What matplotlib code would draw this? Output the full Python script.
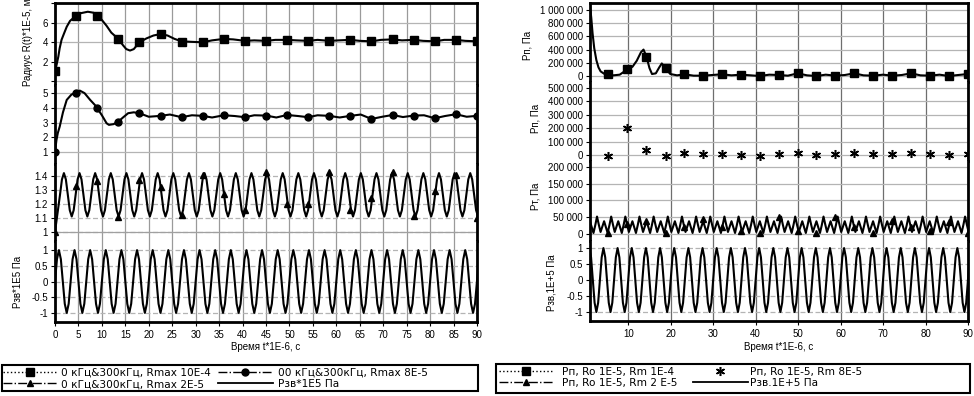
import numpy as np
import matplotlib
matplotlib.use("Agg")
import matplotlib.pyplot as plt
from matplotlib.lines import Line2D
from matplotlib.patches import Rectangle

plt.rcParams['font.family'] = ['Liberation Sans', 'DejaVu Sans']
plt.rcParams['font.size'] = 7

# ---------------- data (time in 1E-6 s) ----------------
# one cycle of the 300 kHz drive, 8 samples per cycle
period = 3.333
sine_cycle = [0.0, 0.71, 1.0, 0.71, 0.0, -0.71, -1.0, -0.71]

# left chart: radius curves
r1_t = [0, 0.3, 0.7, 1.0, 1.4, 2.0, 2.5, 3.2, 4.5, 5.5, 7.0, 8.2, 9.0, 10.0, 11.0, 12.0,
        13.5, 14.5, 15.2, 16.0, 16.8, 18.0, 19.5, 21.0, 22.5, 24.0, 25.5, 27.0, 29.0,
        31.5, 33.5, 36.0, 38.0, 40.5, 42.5, 45.0, 47.0, 49.5, 51.5, 54.0, 56.0, 58.5,
        60.5, 63.0, 65.0, 67.5, 69.5, 72.0, 74.0, 76.5, 78.5, 81.0, 83.0, 85.5, 87.5, 90.0]
r1_v = [1.0, 1.6, 2.5, 3.4, 4.26, 5.0, 5.6, 6.2, 6.75, 7.0, 7.15, 7.05, 6.8, 6.3, 5.7, 5.0,
        4.35, 3.7, 3.3, 3.15, 3.3, 4.0, 4.4, 4.7, 4.85, 4.7, 4.35, 4.1, 4.05,
        4.0, 4.2, 4.35, 4.3, 4.15, 4.2, 4.15, 4.25, 4.25, 4.2, 4.15, 4.25, 4.15,
        4.2, 4.25, 4.15, 4.1, 4.25, 4.3, 4.2, 4.25, 4.15, 4.1, 4.25, 4.25, 4.15, 4.1]

r2_t = [0, 0.3, 0.6, 1.0, 1.7, 2.5, 3.5, 4.5, 5.3, 6.3, 7.5, 8.5, 9.0, 10.0, 11.0, 11.5,
        12.5, 13.5, 14.5, 15.6, 16.8, 18.0, 20.0, 22.5, 24.5, 27.0, 29.2, 31.5, 33.5,
        36.0, 38.3, 40.5, 42.5, 45.0, 47.2, 49.5, 51.8, 54.0, 56.0, 58.5, 60.7, 63.0,
        65.2, 67.5, 69.8, 72.0, 74.2, 76.5, 78.7, 81.0, 83.2, 85.5, 87.8, 90.0]
r2_v = [1.0, 1.8, 2.3, 2.73, 3.7, 4.54, 4.9, 5.04, 5.17, 5.0, 4.54, 4.2, 3.98, 3.5, 2.96, 2.85,
        2.9, 3.07, 3.35, 3.64, 3.7, 3.64, 3.4, 3.46, 3.55, 3.37, 3.5, 3.46, 3.35,
        3.5, 3.45, 3.37, 3.5, 3.48, 3.35, 3.52, 3.45, 3.37, 3.5, 3.46, 3.35, 3.46,
        3.55, 3.25, 3.4, 3.52, 3.38, 3.48, 3.5, 3.3, 3.45, 3.57, 3.4, 3.46]

# oscillating radius (Rmax 2E-5): starts at 1, then one cycle repeated
r3_start = 1.0
r3_phase = 1.067
r3_cycle = [1.265, 1.375, 1.42, 1.375, 1.265, 1.155, 1.11, 1.155]

marker_t_left = [0, 4.5, 9, 13.5, 18, 22.5, 27, 31.5, 36, 40.5, 45, 49.5, 54, 58.5,
                 63, 67.5, 72, 76.5, 81, 85.5, 90]
sq_left = [1.0, 6.75, 6.75, 4.33, 3.98, 4.84, 4.08, 4.02, 4.35, 4.15, 4.15, 4.25, 4.15, 4.15,
           4.25, 4.1, 4.3, 4.25, 4.1, 4.25, 4.1]
circ_left = [1.0, 5.04, 3.98, 3.07, 3.64, 3.46, 3.37, 3.46, 3.5, 3.37, 3.48, 3.52, 3.37, 3.46,
             3.46, 3.25, 3.52, 3.48, 3.3, 3.57, 3.46]
tri_left = [1.0, 1.33, 1.366, 1.105, 1.37, 1.32, 1.12, 1.407, 1.27, 1.16, 1.43, 1.2, 1.2, 1.43,
            1.157, 1.24, 1.43, 1.114, 1.29, 1.41, 1.1]

# right chart: pressure curves (Pa)
pa_t = [1.0, 1.3, 1.6, 2.0, 2.5, 3.0, 3.5, 4.3, 5.3, 6.5, 8.0, 9.8, 11.0, 12.0, 13.0, 13.6,
        14.3, 15.0, 15.6, 16.5, 17.3, 17.9, 18.8, 19.9, 21.5, 23.2, 25.4, 27.6, 29.8, 32.1,
        34.3, 36.6, 38.8, 41.0, 43.2, 45.4, 47.6, 49.9, 52.1, 54.3, 56.5, 58.8, 61.0, 63.2,
        65.4, 67.7, 70.0, 72.2, 74.4, 76.6, 78.8, 81.1, 83.3, 85.5, 87.7, 90.0]
pa_v = [1060000, 880000, 650000, 420000, 240000, 130000, 70000, 35000, 30000, 10000, 20000,
        100000, 140000, 230000, 360000, 400000, 292000, 120000, 30000, 40000, 130000, 190000,
        116000, 30000, 10000, 26000, 5000, 5000, 15000, 26000, 10000, 20000, 10000, 0, 20000,
        15000, 5000, 40000, 10000, 0, 20000, 5000, 15000, 40000, 10000, 5000, 20000, 5000,
        15000, 40000, 10000, 5000, 20000, 0, 15000, 30000]

marker_t_right = [5.3, 9.8, 14.3, 18.8, 23.2, 27.6, 32.1, 36.6, 41.0, 45.4, 49.9, 54.3, 58.8,
                  63.2, 67.7, 72.2, 76.6, 81.1, 85.5, 90.0]
sq_right = [30000, 100000, 292000, 116000, 26000, 5000, 26000, 20000, 0, 15000, 40000, 0,
            5000, 40000, 5000, 5000, 40000, 5000, 0, 30000]
star_right = [-5000, 199000, 37000, -5000, 13000, 5000, 5000, 0, -7000, 7000, 12000, -3000,
              7000, 12000, 5000, 7000, 12000, 5000, -3000, 7000]
tri_right = [2000, 30000, 40000, 3000, 20000, 45000, 20000, 8000, 3000, 50000, 10000, 3000,
             50000, 20000, 3000, 40000, 20000, 10000, 35000, 3000]

# Rm 2E-5 pressure: one cycle (big peak first) repeated
pc_phase = -0.68
pc_cycle = [52000, 28000, 6000, 22000, 38000, 20000, 3000, 26000]

left_labels = ["0 кГц&300кГц, Rmax 10E-4", "0 кГц&300кГц, Rmax 2E-5",
               "00 кГц&300кГц, Rmax 8E-5", "Рзв*1E5 Па"]
right_labels = ["Рп, Ro 1E-5, Rm 1E-4", "Рп, Ro 1E-5, Rm 2 E-5",
                "Рп, Ro 1E-5, Rm 8E-5", "Рзв.1E+5 Па"]

# ---------------- repeated cycles -> series ----------------
step = period / 8
wave_t = np.arange(0, 91, step)
pzv = np.resize(sine_cycle, wave_t.size)

r3_t = np.concatenate([[0.0], np.arange(r3_phase, 91, step)])
r3_v = np.concatenate([[r3_start], np.resize(r3_cycle, r3_t.size - 1)])

pc_t = np.arange(pc_phase, 91, step)
pc_v = np.resize(pc_cycle, pc_t.size)

# ---------------- figure ----------------
W, H = 974, 396
fig = plt.figure(figsize=(W / 100, H / 100), dpi=100)


def band(x0, x1, y0, y1):
    return fig.add_axes([x0 / W, 1 - y1 / H, (x1 - x0) / W, (y1 - y0) / H])


def fmt_space(v):
    return f"{int(v):,}".replace(",", " ")


def style(ax, xlim, xticks, ylim, yticks, ylabels, dashed=False, first=False, last=False,
          xlabels=None, vcolor='#9a9a9a'):
    ax.set_xlim(xlim)
    ax.set_ylim(ylim)
    ax.set_xticks(xticks)
    ax.set_yticks(yticks)
    ax.set_yticklabels(ylabels)
    ax.grid(True, axis='x', color=vcolor, lw=0.9)
    ax.grid(True, axis='y', color='#b4b4b4', lw=0.9, ls=(0, (4, 2)) if dashed else '-')
    ax.set_axisbelow(True)
    ax.spines['top'].set_visible(first)
    ax.spines['bottom'].set_visible(last)
    for s in ax.spines.values():
        s.set_linewidth(2)
    ax.tick_params(axis='y', length=3, width=0.8, pad=2, labelsize=7)
    if last:
        ax.set_xticklabels(xlabels)
        ax.tick_params(axis='x', length=3, width=0.8, pad=3, labelsize=7)
    else:
        ax.tick_params(axis='x', length=0, labelbottom=False)


lw = 1.5

# ---- left chart ----
LX0, LX1 = 55, 477
lt = list(range(0, 91, 5))
ax1 = band(LX0, LX1, 3, 85)
ax1.plot(r1_t, r1_v, color='k', lw=lw)
ax1.plot(marker_t_left, sq_left, ls='none', marker='s', ms=6, color='k')
style(ax1, (0, 90), lt, (-0.4, 8.05), [0, 2, 4, 6, 8], ['', '2', '4', '6', ''], first=True)

ax2 = band(LX0, LX1, 85, 164)
ax2.plot(r2_t, r2_v, color='k', lw=lw)
ax2.plot(marker_t_left, circ_left, ls='none', marker='o', ms=5, color='k')
style(ax2, (0, 90), lt, (0.2, 5.55), [1, 2, 3, 4, 5], ['1', '2', '3', '4', '5'])

ax3 = band(LX0, LX1, 164, 241)
ax3.plot(r3_t, r3_v, color='k', lw=lw)
ax3.plot(marker_t_left, tri_left, ls='none', marker='^', ms=5, color='k')
style(ax3, (0, 90), lt, (0.935, 1.485), [1, 1.1, 1.2, 1.3, 1.4],
      ['1', '1.1', '1.2', '1.3', '1.4'], dashed=True)
ax3.axhline(1, color='#a0a0a0', lw=0.9, zorder=0.6)

ax4 = band(LX0, LX1, 241, 322)
ax4.plot(wave_t, pzv, color='k', lw=lw)
style(ax4, (0, 90), lt, (-1.29, 1.29), [-1, -0.5, 0, 0.5, 1],
      ['-1', '-0.5', '0', '0.5', '1'], dashed=True, last=True,
      xlabels=[str(v) for v in lt])

fig.text(28 / W, 1 - 42 / H, "Радиус R(t)*1E-5, м", rotation=90, ha='center', va='center')
fig.text(18 / W, 1 - 282 / H, "Рзв*1E5 Па", rotation=90, ha='center', va='center')
fig.text((LX0 + LX1) / 2 / W, 1 - 347 / H, "Время t*1E-6, с", ha='center', va='center')

# ---- right chart ----
RX0, RX1 = 590, 968
rt = list(range(10, 91, 10))
bx1 = band(RX0, RX1, 3, 82)
bx1.plot(pa_t, pa_v, color='k', lw=lw)
bx1.plot(marker_t_right, sq_right, ls='none', marker='s', ms=6, color='k')
ya = list(range(0, 1000001, 200000))
style(bx1, (1, 90), rt, (-91000, 1106000), ya, [fmt_space(v) for v in ya],
      first=True, vcolor='#6e6e6e')

bx2 = band(RX0, RX1, 82, 161)
bx2.plot(marker_t_right, star_right, ls='none', marker=(6, 2, 0), ms=6.5, mew=1.1, color='k')
yb = list(range(0, 500001, 100000))
style(bx2, (1, 90), rt, (-45000, 545000), yb, [fmt_space(v) for v in yb], vcolor='#6e6e6e')

bx3 = band(RX0, RX1, 161, 241)
bx3.plot(pc_t, pc_v, color='k', lw=lw)
bx3.plot(marker_t_right, tri_right, ls='none', marker='^', ms=5, color='k')
yc = list(range(0, 200001, 50000))
style(bx3, (1, 90), rt, (-21000, 218000), yc, [fmt_space(v) for v in yc], vcolor='#6e6e6e')

bx4 = band(RX0, RX1, 241, 321)
bx4.plot(wave_t, pzv, color='k', lw=lw)
style(bx4, (1, 90), rt, (-1.28, 1.22), [-1, -0.5, 0, 0.5, 1],
      ['-1', '-0.5', '0', '0.5', '1'], dashed=True, last=True,
      xlabels=[str(v) for v in rt], vcolor='#6e6e6e')

fig.text(527 / W, 1 - 45 / H, "Рп, Па", rotation=90, ha='center', va='center')
fig.text(535 / W, 1 - 118 / H, "Рп, Па", rotation=90, ha='center', va='center')
fig.text(535 / W, 1 - 196 / H, "Рт, Па", rotation=90, ha='center', va='center')
fig.text(552 / W, 1 - 283 / H, "Рзв,1E+5 Па", rotation=90, ha='center', va='center')
fig.text((RX0 + RX1) / 2 / W, 1 - 347 / H, "Время t*1E-6, с", ha='center', va='center')

# ---- legends: frame drawn as a box, each column placed on its own ----
h_sq = Line2D([], [], color='k', ls=':', lw=1, marker='s', ms=6)
h_tri = Line2D([], [], color='k', ls='-.', lw=1, marker='^', ms=5)
h_circ = Line2D([], [], color='k', ls='-.', lw=1, marker='o', ms=5)
h_star = Line2D([], [], color='k', ls='none', marker=(6, 2, 0), ms=6.5, mew=1.1)
h_line = Line2D([], [], color='k', lw=1.3)

legend_font = {'family': 'DejaVu Sans', 'size': 7.6}
for (bx0, by0, bx1_, by1), cols in [
        ((2, 365, 478, 391), [(3, [h_sq, h_tri], left_labels[:2], 0.3),
                              (218, [h_circ, h_line], left_labels[2:], 0.5)]),
        ((496, 364, 970, 393), [(499, [h_sq, h_tri], right_labels[:2], 0.8),
                                (693, [h_star, h_line], right_labels[2:], 0.2)])]:
    fig.patches.append(Rectangle((bx0 / W, 1 - by1 / H), (bx1_ - bx0) / W, (by1 - by0) / H,
                                 transform=fig.transFigure, fill=False, ec='k', lw=1.5))
    for cx, hs, labs, pad in cols:
        fig.legend(hs, labs, loc='upper left', bbox_to_anchor=(cx / W, 1 - (by0 + 3) / H),
                   frameon=False, borderaxespad=0, borderpad=0, prop=legend_font,
                   handlelength=5.2, handletextpad=pad, labelspacing=0.1)

fig.savefig("out.png", dpi=100)
